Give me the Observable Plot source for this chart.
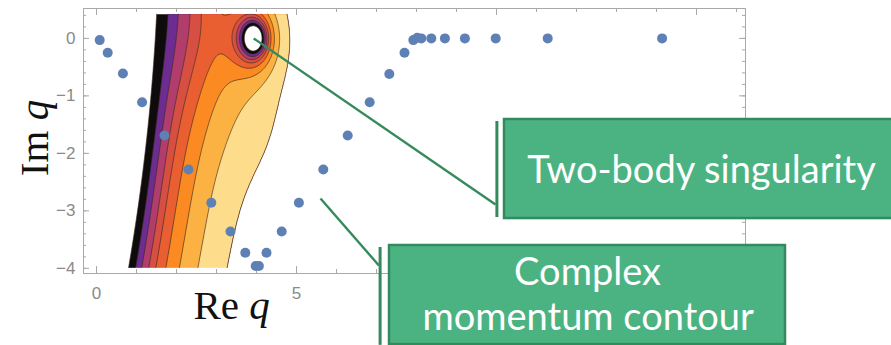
<!DOCTYPE html>
<html>
<head>
<meta charset="utf-8">
<script src="https://cdn.jsdelivr.net/npm/d3@7"></script>
<script src="https://cdn.jsdelivr.net/npm/@observablehq/plot@0.6"></script>
<style>
  html, body { margin: 0; padding: 0; background: #ffffff; }
  #chart { width: 891px; height: 345px; overflow: hidden; }
</style>
</head>
<body>
<div id="chart"></div>
<script>
// Integration points along the complex momentum contour (Re q, Im q)
const CONTOUR_RE = [0.08, 0.28, 0.66, 1.14, 1.70, 2.30, 2.87, 3.35, 3.72, 3.98,
                    4.06, 4.25, 4.63, 5.06, 5.67, 6.28, 6.83, 7.32, 7.70, 7.92,
                    8.02, 8.12, 8.37, 8.71, 9.21, 9.98, 11.28, 14.14];
const CONTOUR_IM = [-0.03, -0.25, -0.61, -1.11, -1.69, -2.28, -2.86, -3.36, -3.73, -3.96,
                    -3.96, -3.73, -3.36, -2.86, -2.28, -1.69, -1.11, -0.62, -0.25, -0.03,
                    0.01, 0, 0, 0, 0, 0, 0, 0];

// Contour levels of the shaded kernel and the colour of each band above a level
const LEVELS = [-0.69, -0.39, -0.19, 0, 0.16, 0.35, 0.56, 0.79, 1.07];
const BAND_COLORS = ["#0e0b0c", "#6c2c90", "#b03d6b", "#d64f42", "#ea5f31",
                     "#fb8a22", "#fcb243", "#fddd8c"];

// Kernel model: logarithmic rise away from the left cut, a two-body pole,
// and two broad dips (between cut and pole, and below the pole)
const LEFT_EDGE = [1.467, 0.0878, -0.0199];   // Re q of the cut as a quadratic in Im q
const EDGE_OFFSET = 0.5;
const SINGULARITY = [3.93, 0.0];
const POLE = {strength: 1.65, radius: 0.6};
const DIPS = [
  {depth: 0.3, re: 2.2, im: 0.5, sre: 0.9, sim: 1.2},
  {depth: 0.12, re: 4.4, im: -1.7, sre: 0.8, sim: 0.8}
];
const FIELD_RE = [0, 6];
const FIELD_IM = [-4, 0.42];

// Axes
const X_DOMAIN = [-0.325, 16.225];
const Y_DOMAIN = [-4.09, 0.52];
const X_MAJOR = [0, 5, 10, 15];
const X_LABELS = [0, 5];
const Y_LABELS = [-4, -3, -2, -1, 0];
const X_MINOR = [0, 1, 2, 3, 4, 5, 6, 7, 8, 9, 10, 11, 12, 13, 14, 15, 16];
const Y_MINOR = [-4, -3.8, -3.6, -3.4, -3.2, -3, -2.8, -2.6, -2.4, -2.2, -2, -1.8, -1.6,
                 -1.4, -1.2, -1, -0.8, -0.6, -0.4, -0.2, 0, 0.2, 0.4];

// Callouts
const CALLOUT_TWO_BODY = {
  text: "Two-body singularity",
  leader: {x1: 3.93, y1: 0.0, x2: 9.975, y2: -2.89},
  bar: {x: 10.01, y1: -1.446, y2: -3.116},
  box: {x1: 10.2, x2: 19.95, y1: -1.411, y2: -3.134},
  label: {x: 15.125, y: -2.298}
};
const CALLOUT_CONTOUR = {
  lines: ["Complex", "momentum contour"],
  leader: {x1: 5.6, y1: -2.785, x2: 7.06, y2: -3.95},
  bar: {x: 7.09, y1: -3.638, y2: -5.34},
  box: {x1: 7.325, x2: 17.225, y1: -3.603, y2: -5.326},
  label: [{x: 12.275, y: -4.081}, {x: 12.29, y: -4.864}]
};

const RE_TITLE = {text: "Re q", x: 2.425, y: -4.873};
const IM_TITLE = {text: "Im q", x: -1.225, y: -1.733};

const GREEN_FILL = "#4bb382";
const GREEN_LINE = "#358a5d";
const AXIS_GRAY = "#a9a9a9";
const LABEL_GRAY = "#8a8a8a";
const CONTOUR_LINE = "#3a2a1a";
const POINT_BLUE = "#5e81b5";
const CALLOUT_FONT = "Lato, 'Open Sans', sans-serif";

function pull(x, y) {
  const dx = x - SINGULARITY[0], dy = y - SINGULARITY[1];
  const r2 = dx * dx + dy * dy + 1e-9;
  let v = -POLE.strength / 2 * Math.log(1 + POLE.radius * POLE.radius / r2);
  for (const d of DIPS) {
    const gx = (x - d.re) / d.sre, gy = (y - d.im) / d.sim;
    v -= d.depth * Math.exp(-(gx * gx + gy * gy) / 2);
  }
  return v;
}

function kernel(x, y) {
  const edge = LEFT_EDGE[0] + LEFT_EDGE[1] * y + LEFT_EDGE[2] * y * y;
  const x0 = edge - EDGE_OFFSET * Math.exp(-pull(edge, y));
  const u = x - x0;
  if (u <= 1e-4) return -10;
  return Math.max(-10, Math.log(u) + pull(x, y));
}

// values above the top level are left blank
const TOP_LEVEL = LEVELS[LEVELS.length - 1];
function shaded(x, y) {
  const v = kernel(x, y);
  return v > TOP_LEVEL ? -10 : v;
}

const FRAME_W = 662, FRAME_H = 265;
const points = CONTOUR_RE.map((re, i) => ({re, im: CONTOUR_IM[i]}));
const minus = d => (d < 0 ? "\u2212" + (-d) : String(d));

const chart = Plot.plot({
  width: 891,
  height: 345,
  marginLeft: 83,
  marginRight: 146,
  marginTop: 8,
  marginBottom: 72,
  x: {domain: X_DOMAIN, axis: null},
  y: {domain: Y_DOMAIN, axis: null},
  color: {type: "ordinal", domain: LEVELS.slice(0, -1), range: BAND_COLORS},
  style: {background: "#ffffff", overflow: "hidden"},
  marks: [
    // shaded bands
    Plot.contour({
      fill: shaded, thresholds: LEVELS.slice(0, -1),
      x1: FIELD_RE[0], x2: FIELD_RE[1], y1: FIELD_IM[0], y2: FIELD_IM[1],
      pixelSize: 1, stroke: "none"
    }),
    // level lines, sampled past the frame so that only true level curves remain visible
    Plot.contour({
      value: kernel, thresholds: LEVELS,
      x1: -0.6, x2: 16.6, y1: -4.3, y2: 0.7,
      pixelSize: 1, fill: "none", stroke: CONTOUR_LINE, strokeWidth: 0.8, strokeOpacity: 0.8,
      clip: true
    }),
    // blank margins above and below the sampled strip
    Plot.rect([{y1: FIELD_IM[1], y2: Y_DOMAIN[1]}, {y1: Y_DOMAIN[0], y2: FIELD_IM[0]}], {
      x1: () => X_DOMAIN[0], x2: () => X_DOMAIN[1], y1: "y1", y2: "y2", fill: "#ffffff"
    }),

    // frame ticks, pointing inward on all four sides
    Plot.tickX(X_MINOR, {x: d => d, insetTop: FRAME_H - 4, stroke: AXIS_GRAY}),
    Plot.tickX(X_MINOR, {x: d => d, insetBottom: FRAME_H - 4, stroke: AXIS_GRAY}),
    Plot.tickX(X_MAJOR, {x: d => d, insetTop: FRAME_H - 7, stroke: AXIS_GRAY}),
    Plot.tickX(X_MAJOR, {x: d => d, insetBottom: FRAME_H - 7, stroke: AXIS_GRAY}),
    Plot.tickY(Y_MINOR, {y: d => d, insetRight: FRAME_W - 3, stroke: AXIS_GRAY}),
    Plot.tickY(Y_MINOR, {y: d => d, insetLeft: FRAME_W - 3, stroke: AXIS_GRAY}),
    Plot.tickY(Y_LABELS, {y: d => d, insetRight: FRAME_W - 6, stroke: AXIS_GRAY}),
    Plot.tickY(Y_LABELS, {y: d => d, insetLeft: FRAME_W - 6, stroke: AXIS_GRAY}),
    Plot.axisX(X_LABELS, {anchor: "bottom", tickSize: 0, tickPadding: 13, fontSize: 17,
      fill: LABEL_GRAY, label: null, tickFormat: minus, fontFamily: "Liberation Sans, Arial, sans-serif"}),
    Plot.axisY(Y_LABELS, {anchor: "left", tickSize: 0, tickPadding: 8, fontSize: 17,
      fill: LABEL_GRAY, label: null, tickFormat: minus, fontFamily: "Liberation Sans, Arial, sans-serif"}),
    Plot.frame({stroke: AXIS_GRAY}),

    // contour points
    Plot.dot(points, {x: "re", y: "im", r: 5, fill: POINT_BLUE, stroke: "none"}),

    // callout: two-body singularity
    Plot.link([CALLOUT_TWO_BODY.leader], {x1: "x1", y1: "y1", x2: "x2", y2: "y2",
      stroke: GREEN_LINE, strokeWidth: 2.4}),
    Plot.ruleX([CALLOUT_TWO_BODY.bar], {x: "x", y1: "y1", y2: "y2", stroke: GREEN_LINE, strokeWidth: 3}),
    Plot.rect([CALLOUT_TWO_BODY.box], {x1: "x1", x2: "x2", y1: "y1", y2: "y2",
      fill: GREEN_FILL, stroke: GREEN_LINE, strokeWidth: 2.5}),
    Plot.text([CALLOUT_TWO_BODY.label], {x: "x", y: "y", text: () => CALLOUT_TWO_BODY.text,
      fill: "#ffffff", fontSize: 38, fontFamily: CALLOUT_FONT,
      textAnchor: "middle", lineAnchor: "middle"}),

    // callout: complex momentum contour
    Plot.link([CALLOUT_CONTOUR.leader], {x1: "x1", y1: "y1", x2: "x2", y2: "y2",
      stroke: GREEN_LINE, strokeWidth: 2.4}),
    Plot.ruleX([CALLOUT_CONTOUR.bar], {x: "x", y1: "y1", y2: "y2", stroke: GREEN_LINE, strokeWidth: 3}),
    Plot.rect([CALLOUT_CONTOUR.box], {x1: "x1", x2: "x2", y1: "y1", y2: "y2",
      fill: GREEN_FILL, stroke: GREEN_LINE, strokeWidth: 2.5}),
    Plot.text(CALLOUT_CONTOUR.label, {x: "x", y: "y", text: (d, i) => CALLOUT_CONTOUR.lines[i],
      fill: "#ffffff", fontSize: 38, fontFamily: CALLOUT_FONT,
      textAnchor: "middle", lineAnchor: "middle"}),

    // axis titles
    Plot.text([RE_TITLE], {x: "x", y: "y", text: "text", fill: "#111111", fontSize: 41,
      fontFamily: "Liberation Serif, 'Times New Roman', serif", textAnchor: "start", lineAnchor: "bottom"}),
    Plot.text([IM_TITLE], {x: "x", y: "y", text: "text", fill: "#111111", fontSize: 41, rotate: -90,
      fontFamily: "Liberation Serif, 'Times New Roman', serif", textAnchor: "middle", lineAnchor: "bottom"})
  ]
});

// set the variable q of each axis title in italics
d3.select(chart).selectAll("text").each(function () {
  const t = this.textContent;
  if (t === RE_TITLE.text || t === IM_TITLE.text) {
    const sel = d3.select(this);
    sel.text(t.slice(0, -1));
    sel.append("tspan").attr("font-style", "italic").text("q");
  }
});

document.getElementById("chart").appendChild(chart);
</script>
</body>
</html>
